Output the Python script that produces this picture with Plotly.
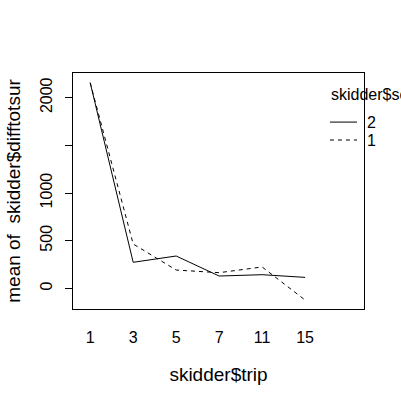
import plotly.graph_objects as go

trips = ["1", "3", "5", "7", "11", "15"]
level2 = [2157, 273, 339, 129, 143, 115]
level1 = [2157, 465, 192, 164, 224, -123]
y_ticks = [0, 500, 1000, 1500, 2000]
y_ticktext = ["0", "500", "1000", "", "2000"]

FONT = "Liberation Sans, Arial, sans-serif"

fig = go.Figure()
fig.add_trace(go.Scatter(x=trips, y=level2, mode="lines",
                         line=dict(color="black", width=1), showlegend=False))
fig.add_trace(go.Scatter(x=trips, y=level1, mode="lines",
                         line=dict(color="black", width=1, dash="4px,4px"), showlegend=False))

fig.update_layout(
    width=401, height=400,
    margin=dict(l=73, r=37, t=73, b=91),
    paper_bgcolor="white", plot_bgcolor="white",
    font=dict(family=FONT, size=16, color="black"),
    xaxis=dict(type="category", range=[-0.4, 6.37], showline=True, mirror=True,
               linecolor="black", linewidth=1, showgrid=False, zeroline=False,
               ticks="outside", ticklen=14, tickcolor="rgba(0,0,0,0)",
               title=dict(text="skidder$trip", standoff=22)),
    yaxis=dict(range=[-217, 2259], showline=True, mirror=True,
               linecolor="black", linewidth=1, showgrid=False, zeroline=False,
               ticks="outside", ticklen=7, tickcolor="black",
               tickvals=y_ticks, ticktext=y_ticktext, tickangle=-90,
               ticklabelstandoff=7,
               title=dict(text="mean of  skidder$difftotsur", standoff=11)),
)

fig.add_annotation(xref="paper", yref="paper", x=0.88, y=0.907, text="skidder$sc",
                   showarrow=False, xanchor="left", yanchor="middle",
                   font=dict(size=16, family=FONT))
for yl, lab, dash in [(0.792, "2", "solid"), (0.716, "1", "4px,4px")]:
    fig.add_shape(type="line", xref="paper", yref="paper", x0=0.883, x1=0.976,
                  y0=yl, y1=yl, line=dict(color="black", width=1, dash=dash))
    fig.add_annotation(xref="paper", yref="paper", x=1.003, y=yl, text=lab,
                       showarrow=False, xanchor="left", yanchor="middle",
                       font=dict(size=16, family=FONT))

fig.write_html("out.html", config={"displayModeBar": False},
               post_script="document.body.style.margin='0';document.body.style.overflow='hidden';")
